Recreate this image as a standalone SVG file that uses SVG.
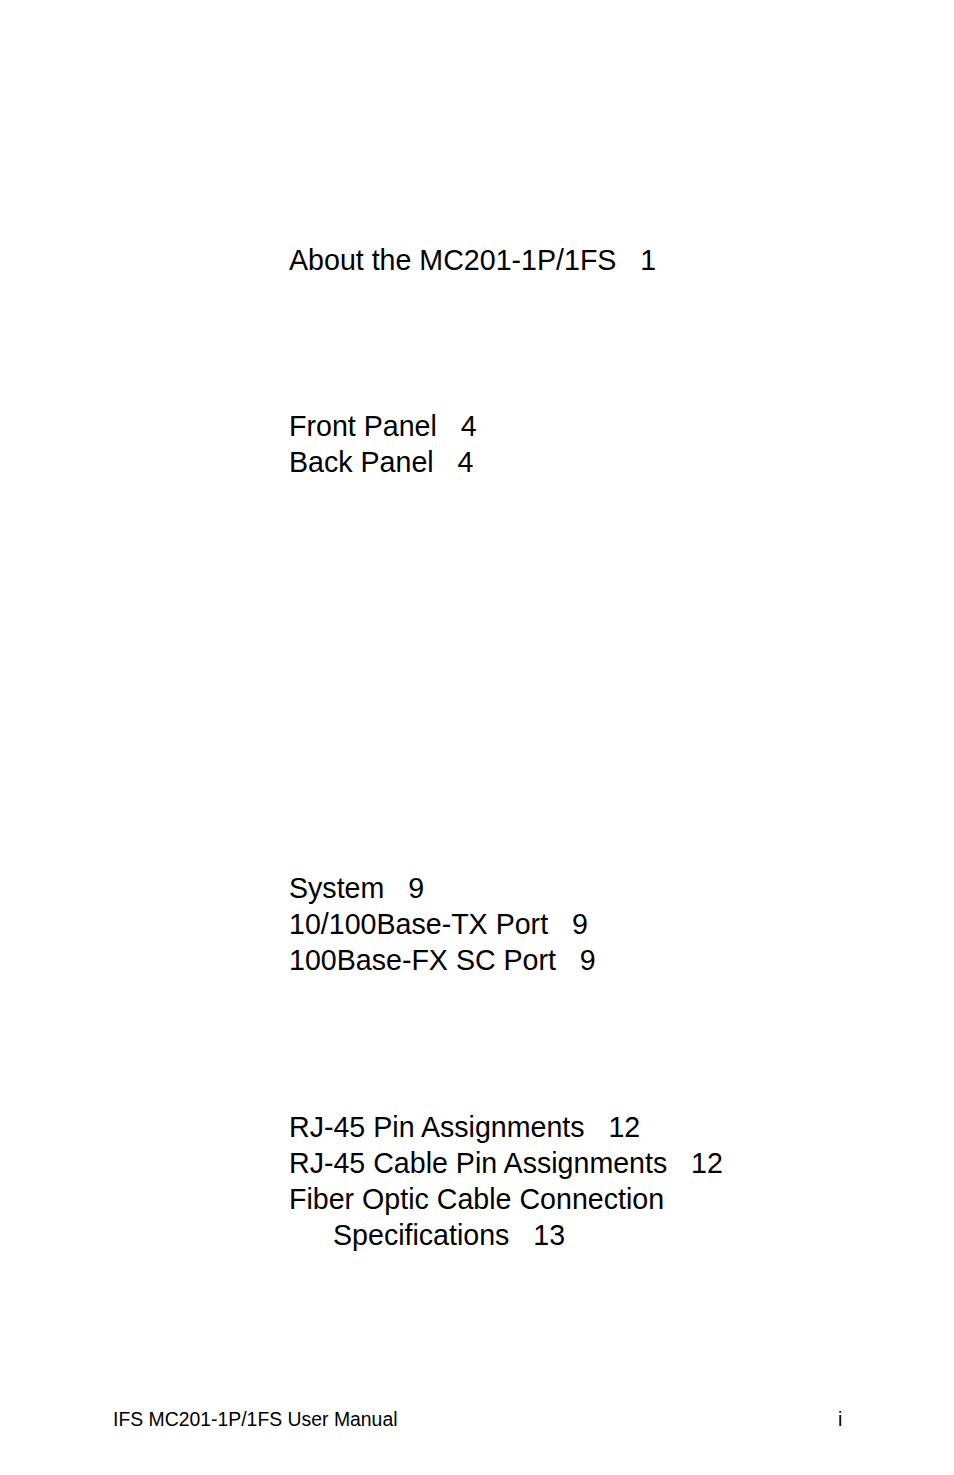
<svg xmlns="http://www.w3.org/2000/svg" width="954" height="1475" viewBox="0 0 954 1475">
<style>
text{font-family:"Liberation Sans",Arial,sans-serif;fill:#000;white-space:pre}
.t{font-size:28.6px}
.f{font-size:19.4px}
</style>
<rect width="954" height="1475" fill="#fff"/>
<g id="toc">
<text class="t" x="289" y="270" xml:space="preserve">About the MC201-1P/1FS   1</text>
<text class="t" x="289" y="436" xml:space="preserve">Front Panel   4</text>
<text class="t" x="289" y="472" xml:space="preserve">Back Panel   4</text>
<text class="t" x="289" y="898" xml:space="preserve">System   9</text>
<text class="t" x="289" y="934" xml:space="preserve">10/100Base-TX Port   9</text>
<text class="t" x="289" y="970" xml:space="preserve">100Base-FX SC Port   9</text>
<text class="t" x="289" y="1137" xml:space="preserve">RJ-45 Pin Assignments   12</text>
<text class="t" x="289" y="1173" xml:space="preserve">RJ-45 Cable Pin Assignments   12</text>
<text class="t" x="289" y="1209" xml:space="preserve">Fiber Optic Cable Connection</text>
<text class="t" x="333" y="1245" xml:space="preserve">Specifications   13</text>
</g>
<g id="footer">
<text class="f" x="113" y="1426">IFS MC201-1P/1FS User Manual</text>
<text class="f" x="838" y="1426">i</text>
</g>
</svg>
